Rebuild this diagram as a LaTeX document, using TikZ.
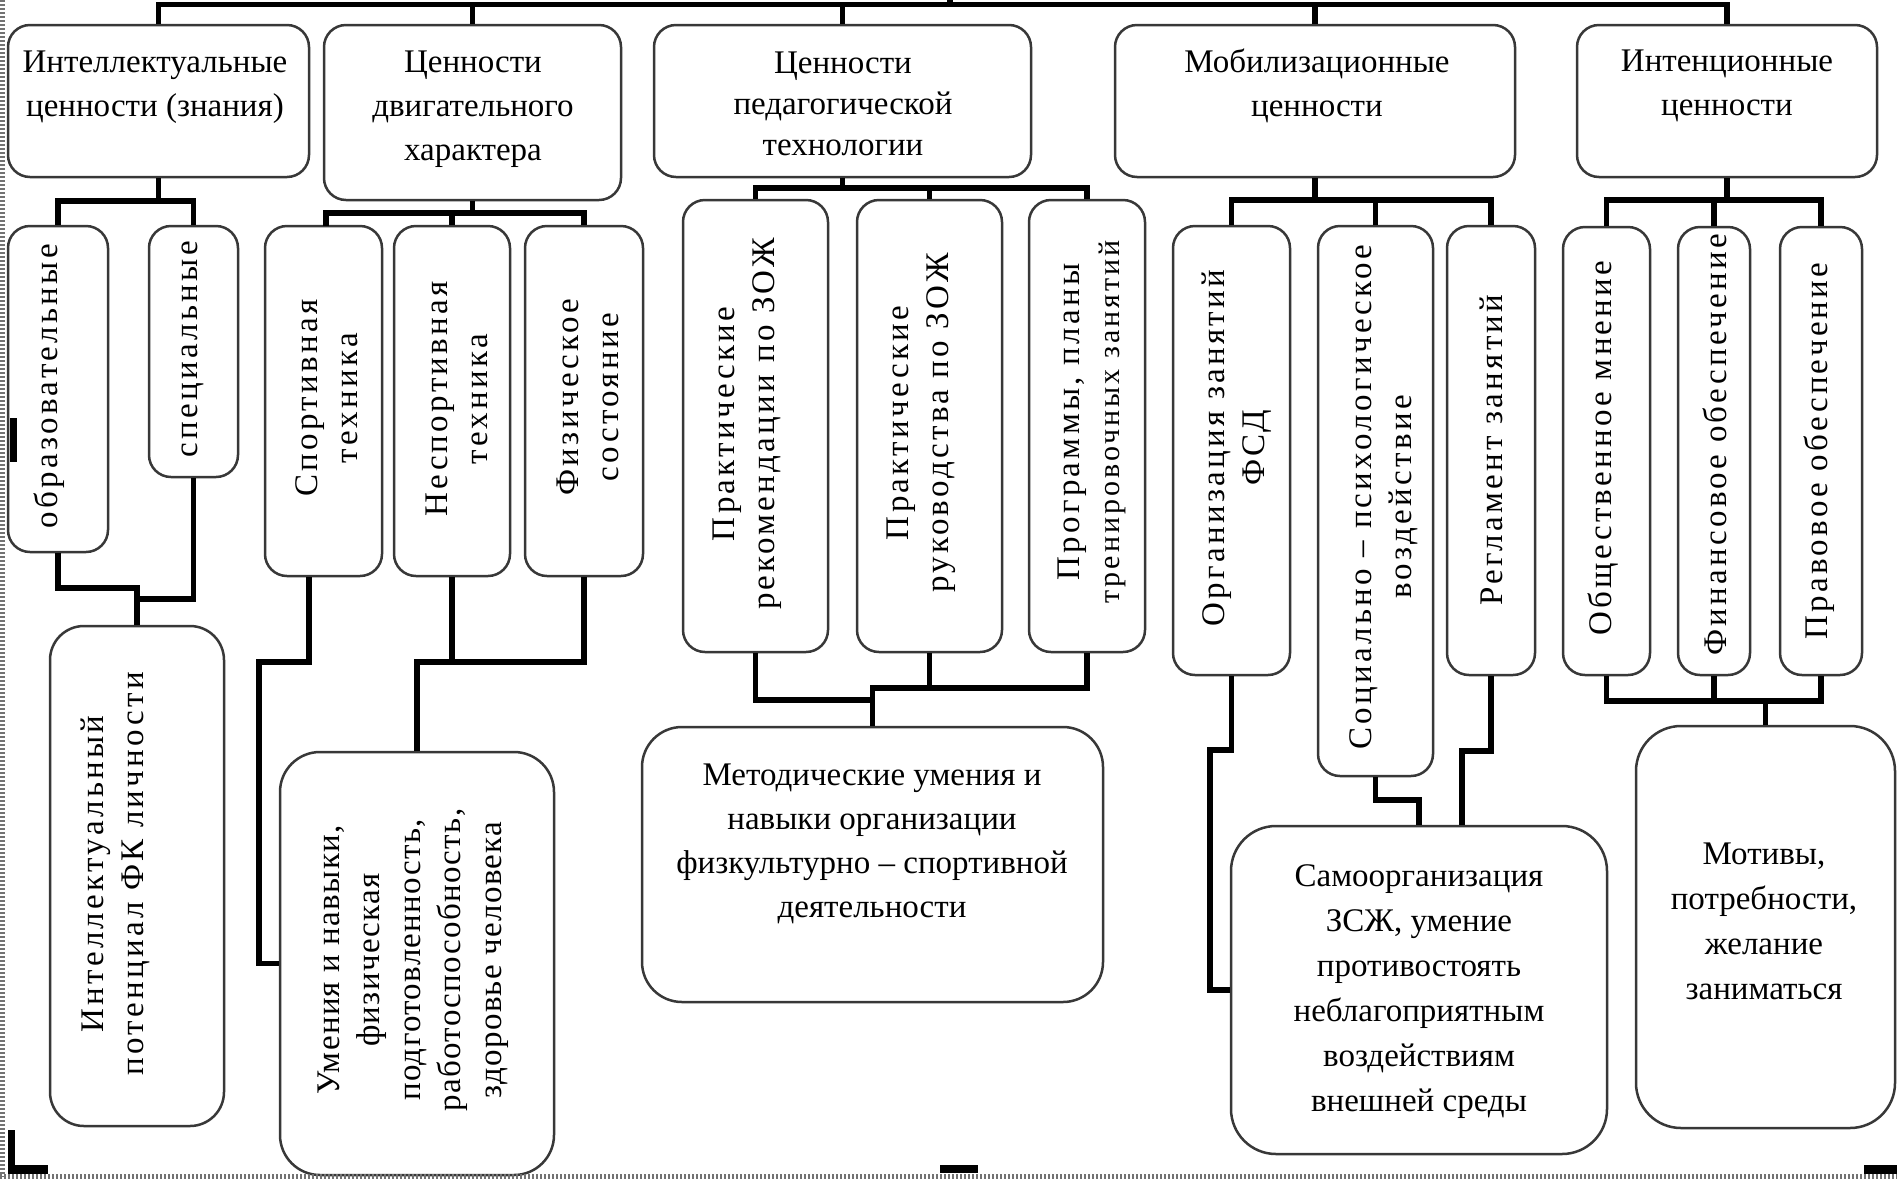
\documentclass[tikz,border=0pt]{standalone}
\usepackage{fontspec}
\setmainfont{Liberation Serif}
\newfontfamily\rotfont[LetterSpace=10]{Liberation Serif}
\newfontfamily\rotfontb[LetterSpace=4]{Liberation Serif}
\usetikzlibrary{calc}
\tikzset{
  box/.style={draw=black!78, line width=2.5pt, rounded corners=22pt, fill=white, inner sep=0pt},
  bigbox/.style={box, rounded corners=40pt},
  conn/.style={draw=black, line width=5.5pt, line join=miter},
  htxt/.style={inner sep=0pt, align=center, font=\fontsize{33}{44}\selectfont},
  rtxt/.style={inner sep=0pt, align=center, rotate=90, font=\rotfont\fontsize{33}{40}\selectfont},
  selmark/.style={fill=black},
}
\begin{document}
\begin{tikzpicture}[x=1pt,y=-1pt]
\useasboundingbox (0,0) rectangle (1897,1179);
\fill[white] (0,0) rectangle (1897,1179);

% ---------- top row ----------
\node[box, minimum width=301pt, minimum height=152pt] (b1) at (158.5,101) {};
\node[box, minimum width=297pt, minimum height=175pt] (b2) at (472.5,112.5) {};
\node[box, minimum width=377pt, minimum height=152pt] (b3) at (842.5,101) {};
\node[box, minimum width=400pt, minimum height=152pt] (b4) at (1315,101) {};
\node[box, minimum width=300pt, minimum height=152pt] (b5) at (1727,101) {};

\node[htxt] (b1t) at (155,87) {Интеллектуальные\\ценности (знания)};
\node[htxt] (b2t) at (473,109) {Ценности\\двигательного\\характера};
\node[htxt, font=\fontsize{33}{41}\selectfont] (b3t) at (843,104) {Ценности\\педагогической\\технологии};
\node[htxt] (b4t) at (1317,86) {Мобилизационные\\ценности};
\node[htxt] (b5t) at (1727,86) {Интенционные\\ценности};

% ---------- second row ----------
\node[box, minimum width=100pt, minimum height=326pt] (c11) at (58,389) {};
\node[box, minimum width=89pt, minimum height=251pt] (c12) at (193.5,351.5) {};
\node[box, minimum width=117pt, minimum height=350pt] (c21) at (323.5,401) {};
\node[box, minimum width=116pt, minimum height=350pt] (c22) at (452,401) {};
\node[box, minimum width=118pt, minimum height=350pt] (c23) at (584,401) {};
\node[box, minimum width=145pt, minimum height=452pt] (c31) at (755.5,426) {};
\node[box, minimum width=145pt, minimum height=452pt] (c32) at (929.5,426) {};
\node[box, minimum width=116pt, minimum height=452pt] (c33) at (1087,426) {};
\node[box, minimum width=117pt, minimum height=449pt] (c41) at (1231.5,450.5) {};
\node[box, minimum width=115pt, minimum height=550pt] (c42) at (1375.5,501) {};
\node[box, minimum width=88pt, minimum height=449pt] (c43) at (1491,450.5) {};
\node[box, minimum width=87pt, minimum height=448pt] (c51) at (1606.5,451) {};
\node[box, minimum width=72pt, minimum height=448pt] (c52) at (1714,451) {};
\node[box, minimum width=82pt, minimum height=448pt] (c53) at (1821,451) {};

\node[rtxt] (c11t) at (49,386) {образовательные};
\node[rtxt] (c12t) at (193,349) {специальные};
\node[rtxt] (c21t) at (327,398) {Спортивная\\техника};
\node[rtxt] (c22t) at (457,399) {Неспортивная\\техника};
\node[rtxt] (c23t) at (588,397) {Физическое\\состояние};
\node[rtxt] (c31t) at (747,424) {Практические\\рекомендации по ЗОЖ};
\node[rtxt] (c32t) at (921,423) {Практические\\руководства по ЗОЖ};
\node[rtxt] (c33t) at (1092,422) {Программы, планы\\{\fontsize{30}{40}\selectfont тренировочных занятий}};
\node[rtxt] (c41t) at (1237,448) {Организация занятий\\ФСД};
\node[rtxt] (c42t) at (1384,497) {Социально – психологическое\\воздействие};
\node[rtxt] (c43t) at (1491,450) {Регламент занятий};
\node[rtxt] (c51t) at (1603,448) {Общественное мнение};
\node[rtxt] (c52t) at (1715,445) {Финансовое обеспечение};
\node[rtxt] (c53t) at (1819,451) {Правовое обеспечение};

% ---------- third row ----------
\node[bigbox, rounded corners=34pt, minimum width=174pt, minimum height=500pt] (d1) at (137,876) {};
\node[bigbox, minimum width=274pt, minimum height=423pt] (d2) at (417,963.5) {};
\node[bigbox, minimum width=461pt, minimum height=275pt] (d3) at (872.5,864.5) {};
\node[bigbox, rounded corners=45pt, minimum width=376pt, minimum height=328pt] (d4) at (1419,990) {};
\node[bigbox, rounded corners=45pt, minimum width=259pt, minimum height=402pt] (d5) at (1765.5,927) {};

\node[rtxt] (d1t) at (115,874) {Интеллектуальный\\потенциал ФК личности};
\node[rtxt, font=\rotfontb\fontsize{33}{40.5}\selectfont] (d2t) at (413,960) {Умения и навыки,\\физическая\\подготовленность,\\работоспособность,\\здоровье человека};
\node[htxt] (d3t) at (872,843.5) {Методические умения и\\навыки организации\\физкультурно – спортивной\\деятельности};
\node[htxt, font=\fontsize{33}{45}\selectfont] (d4t) at (1419,992) {Самоорганизация\\ЗСЖ, умение\\противостоять\\неблагоприятным\\воздействиям\\внешней среды};
\node[htxt, font=\fontsize{33}{45}\selectfont] (d5t) at (1764,921.5) {Мотивы,\\потребности,\\желание\\заниматься};

% ---------- connectors: top bus ----------
\coordinate (bus) at (950,4.5);
\coordinate (topstub) at (950,-6);
\draw[conn] (b1.north) -- (b1.north |- bus) -- (b5.north |- bus) -- (b5.north);
\draw[conn] (b2.north) -- (b2.north |- bus);
\draw[conn] (b3.north) -- (b3.north |- bus);
\draw[conn] (b4.north) -- (b4.north |- bus);
\draw[conn] (bus) -- (topstub);

% ---------- connectors: first row to second row ----------
\coordinate (j1) at (158.5,201);
\draw[conn] (b1.south) -- (j1);
\draw[conn] (c11.north) |- (j1) -| (c12.north);

\coordinate (j2) at (472.5,213);
\coordinate (c21top) at (326,226);
\draw[conn] (b2.south) -- (j2);
\draw[conn] (c21top) |- (j2) -| (c23.north);
\draw[conn] (c22.north) -- (c22.north |- j2);

\coordinate (j3) at (842.5,188);
\draw[conn] (b3.south) -- (j3);
\draw[conn] (c31.north) |- (j3) -| (c33.north);
\draw[conn] (c32.north) -- (c32.north |- j3);

\coordinate (j4) at (1315,200);
\draw[conn] (b4.south) -- (j4);
\draw[conn] (c41.north) |- (j4) -| (c43.north);
\draw[conn] (c42.north) -- (c42.north |- j4);

\coordinate (j5) at (1727,200);
\draw[conn] (b5.south) -- (j5);
\draw[conn] (c51.north) |- (j5) -| (c53.north);
\draw[conn] (c52.north) -- (c52.north |- j5);

% ---------- connectors: second row to third row ----------
\coordinate (k1) at (137,588);
\coordinate (k2) at (137,599);
\draw[conn] (c11.south) |- (k1) -- (d1.north);
\draw[conn] (c12.south) |- (k2);

\coordinate (c21b) at ($(c21.south)+(-14.5,0)$);
\coordinate (k3) at (259,662);
\coordinate (k4) at (417,662);
\draw[conn] (c21b) |- (k3) |- (d2.west);
\draw[conn] (c22.south) |- (k4);
\draw[conn] (c23.south) |- (k4) -- (d2.north);

\coordinate (k5) at (872.5,688);
\coordinate (k6) at (872.5,700);
\draw[conn] (c31.south) |- (k6);
\draw[conn] (c32.south) |- (k5);
\draw[conn] (c33.south) |- (k5) -- (d3.north);

\coordinate (k7) at (1210,750);
\coordinate (k8) at (1419,800);
\coordinate (k9) at (1462,751);
\draw[conn] (c41.south) |- (k7) |- (d4.west);
\draw[conn] (c42.south) |- (k8) -- (d4.north);
\draw[conn] (c43.south) |- (k9) -- (k9 |- d4.north);

\coordinate (k10) at (1765.5,701);
\draw[conn] (c51.south) |- (k10);
\draw[conn] (c53.south) |- (k10) -- (d5.north);
\draw[conn] (c52.south) -- (c52.south |- k10);

% ---------- selection frame marks ----------
\draw[black!55, line width=5pt, dash pattern=on 1.5pt off 2.5pt] (2.5,0) -- (2.5,1176.5);
\draw[black!55, line width=5pt, dash pattern=on 1.5pt off 2.5pt] (0,1176.5) -- (1897,1176.5);
\fill[selmark] (10,418) rectangle (17,462);
\fill[selmark] (8,1130) rectangle (15,1174);
\fill[selmark] (8,1165) rectangle (48,1174);
\fill[selmark] (940,1165) rectangle (978,1173);
\fill[selmark] (1864,1165) rectangle (1897,1174);
\end{tikzpicture}
\end{document}
